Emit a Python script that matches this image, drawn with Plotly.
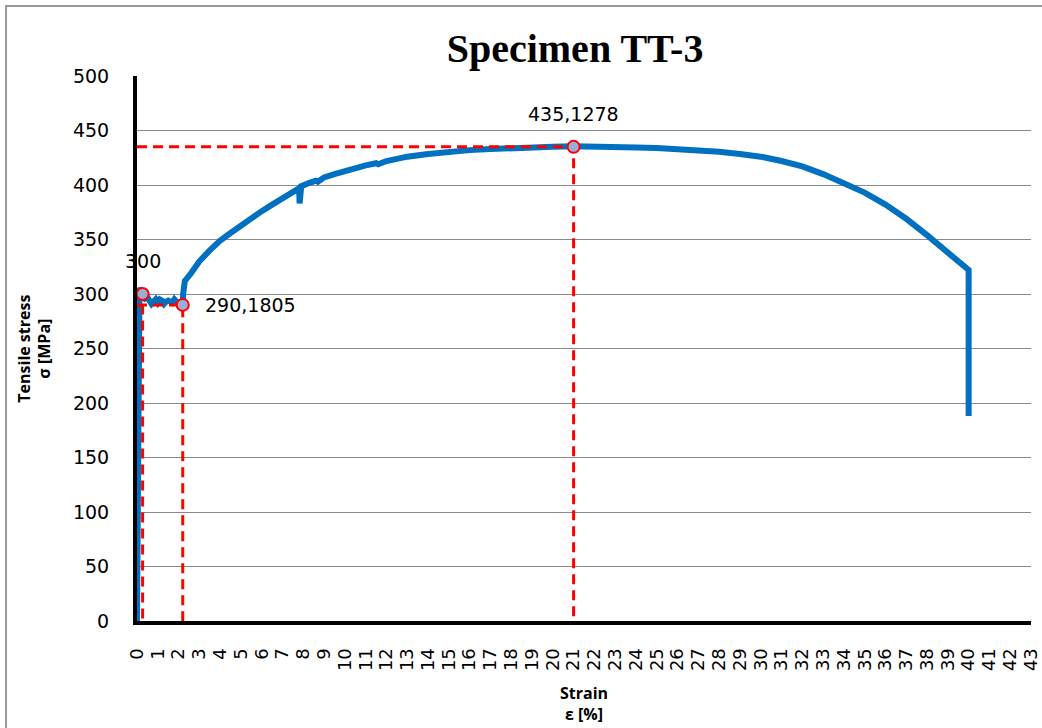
import plotly.graph_objects as go

# ---- data ----
strain = [0, 0.04, 0.08, 0.1, 0.12, 0.2, 0.3, 0.4, 0.5, 0.6, 0.7, 0.8, 0.9, 1.0, 1.1,
          1.2, 1.3, 1.4, 1.5, 1.6, 1.7, 1.8, 1.9, 2.0, 2.1, 2.2, 2.22, 2.3,
          2.6, 3.0, 3.5, 4.0, 4.5, 5.0, 5.5, 6.0, 6.5, 7.0, 7.5, 7.8, 7.82, 7.84,
          7.9, 8.3, 8.6, 8.7, 9.0, 9.5, 10.0, 10.5, 11.0, 11.5, 11.6, 12.0, 13.0,
          14.0, 15.0, 16.0, 17.0, 18.0, 19.0, 20.0, 21.0, 22.0, 23.0, 24.0, 25.0,
          26.0, 27.0, 28.0, 29.0, 30.0, 31.0, 32.0, 33.0, 34.0, 35.0, 36.0, 37.0,
          38.0, 39.0, 39.5, 40.0, 40.0, 40.0]
stress = [0, 120, 250, 303, 306, 300, 300, 296, 297, 294, 291, 293, 295, 292, 295,
          294, 291, 293, 294, 293, 292, 295, 292, 291, 291, 290, 300, 312,
          319, 330, 340, 349, 356, 363, 370, 376, 382, 388, 393, 397, 383, 398,
          399, 402, 404, 403, 407, 410, 413, 416, 418, 420, 419, 422, 426,
          428.5, 430.5, 432, 433, 434, 434.5, 435, 435.5, 435.5, 435, 434.5, 434,
          433, 432, 430.5, 428.5, 426, 422, 417, 410, 402, 393, 382, 369,
          354, 338, 330, 322, 250, 188]

point_x = [0.27, 2.2, 21]
point_y = [300, 290, 435]
point_labels = ["300", "290,1805", "435,1278"]

x_ticks = list(range(0, 44))
y_ticks = list(range(0, 501, 50))

fig = go.Figure()

fig.add_trace(go.Scatter(x=strain, y=stress, mode="lines",
                         line=dict(color="#0070C0", width=6),
                         showlegend=False, hoverinfo="skip"))

# red dashed guide lines built from the point data
for px, py in zip(point_x, point_y):
    fig.add_trace(go.Scatter(x=[0, px, px], y=[py, py, 0], mode="lines",
                             line=dict(color="#FF0000", width=3, dash="10px,6px"),
                             showlegend=False, hoverinfo="skip"))

fig.add_trace(go.Scatter(x=point_x, y=point_y, mode="markers",
                         marker=dict(size=12, color="#9DAED6",
                                     line=dict(color="#FF0000", width=2)),
                         showlegend=False, hoverinfo="skip"))

lab_font = dict(family="DejaVu Sans", size=19, color="#000000")
fig.add_annotation(x=point_x[0], y=point_y[0], text=point_labels[0], showarrow=False,
                   xanchor="center", yanchor="bottom", yshift=20, font=lab_font)
fig.add_annotation(x=point_x[1], y=point_y[1], text=point_labels[1], showarrow=False,
                   xanchor="left", yanchor="middle", xshift=20, yshift=0, font=lab_font)
fig.add_annotation(x=point_x[2], y=point_y[2], text=point_labels[2], showarrow=False,
                   xanchor="center", yanchor="bottom", yshift=20, font=lab_font)

# axis titles
fig.add_annotation(xref="paper", yref="paper", x=-0.115, y=0.5, xanchor="center",
                   yanchor="middle",
                   text="<b>Tensile stress<br>σ [MPa]</b>", textangle=-90, showarrow=False,
                   font=dict(family="Open Sans", size=16, color="#000000"))
fig.add_annotation(xref="paper", yref="paper", x=0.5, y=-0.108, yanchor="top",
                   text="<b>Strain<br>ε [%]</b>", showarrow=False,
                   font=dict(family="Open Sans", size=16, color="#000000"))

# chart border
fig.add_shape(type="rect", xref="paper", yref="paper",
              x0=-0.1465, x1=1.05, y0=-0.3, y1=1.1284,
              line=dict(color="#9A9A9A", width=2), layer="below")

fig.update_layout(
    width=1042, height=728,
    margin=dict(l=137, r=11, t=76, b=107),
    plot_bgcolor="white", paper_bgcolor="white",
    title=dict(text="<b>Specimen TT-3</b>", x=0.49, xref="paper", y=1 - 48 / 728,
               yanchor="middle", xanchor="center", automargin=False,
               font=dict(family="Liberation Serif", size=40, color="#000000")),
    xaxis=dict(range=[0, 43], tickmode="array", tickvals=x_ticks,
               ticktext=[str(v) for v in x_ticks], tickangle=-90, automargin=False,
               showgrid=False, zeroline=False, showline=True, linecolor="#000000",
               linewidth=4, ticks="", ticklabelstandoff=16,
               tickfont=dict(family="DejaVu Sans", size=18, color="#000000")),
    yaxis=dict(range=[0, 500], tickmode="array", tickvals=y_ticks, automargin=False,
               showgrid=True, gridcolor="#8A8A8A", gridwidth=1.4, zeroline=False,
               showline=True, linecolor="#000000", linewidth=4, ticks="",
               ticklabelstandoff=20,
               tickfont=dict(family="DejaVu Sans", size=19, color="#000000")),
)

fig.write_html("out.html", config={"displayModeBar": False},
               post_script="document.body.style.margin='0';document.body.style.overflow='hidden';")
